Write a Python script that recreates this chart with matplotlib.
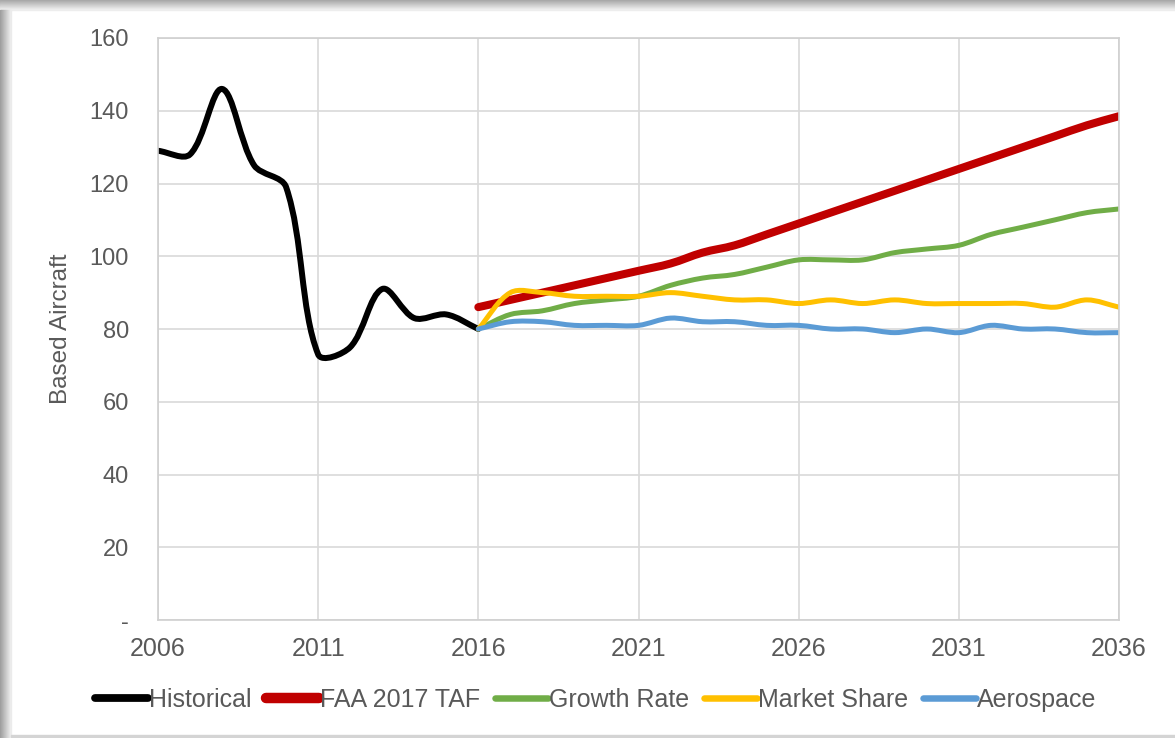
import matplotlib.pyplot as plt
import numpy as np
from matplotlib.path import Path
from matplotlib.patches import PathPatch, Rectangle
from matplotlib.lines import Line2D
from matplotlib.ticker import FuncFormatter

plt.rcParams['font.family'] = ['Liberation Sans', 'DejaVu Sans']

hist_years = list(range(2006, 2017))
historical = [129, 128, 146, 125, 119, 73, 75, 91, 83, 84, 80]

fc_years = list(range(2016, 2037))
faa_taf = [86, 88, 90, 92, 94, 96, 98, 101, 103, 106, 109,
           112, 115, 118, 121, 124, 127, 130, 133, 136, 138.5]
growth_rate = [80, 84, 85, 87, 88, 89, 92, 94, 95, 97, 99,
               99, 99, 101, 102, 103, 106, 108, 110, 112, 113]
market_share = [80, 90, 90, 89, 89, 89, 90, 89, 88, 88, 87,
                88, 87, 88, 87, 87, 87, 87, 86, 88, 86]
aerospace = [80, 82, 82, 81, 81, 81, 83, 82, 82, 81, 81,
             80, 80, 79, 80, 79, 81, 80, 80, 79, 79]

series = [
    ("Historical", hist_years, historical, "#000000", 4.3),
    ("FAA 2017 TAF", fc_years, faa_taf, "#c00000", 5.8),
    ("Growth Rate", fc_years, growth_rate, "#70ad47", 3.6),
    ("Market Share", fc_years, market_share, "#ffc000", 3.6),
    ("Aerospace", fc_years, aerospace, "#5b9bd5", 3.6),
]


def smooth_path(ax, xs, ys):
    # bezier segments through every point, handles weighted by chord length
    # measured on screen (like a spreadsheet "smoothed line")
    to_px = ax.transData
    p = to_px.transform(np.column_stack([xs, ys]).astype(float))
    ext = np.vstack([p[0], p, p[-1]])
    verts = [p[0]]
    codes = [Path.MOVETO]
    for i in range(len(p) - 1):
        p0, p1, p2, p3 = ext[i], ext[i + 1], ext[i + 2], ext[i + 3]
        d01 = np.hypot(*(p1 - p0))
        d12 = np.hypot(*(p2 - p1))
        d23 = np.hypot(*(p3 - p2))
        c1 = p1 + (p2 - p0) * d12 / (d01 + d12) / 3.0
        c2 = p2 - (p3 - p1) * d12 / (d12 + d23) / 3.0
        verts += [c1, c2, p2]
        codes += [Path.CURVE4] * 3
    verts = to_px.inverted().transform(np.array(verts))
    return Path(verts, codes)


fig = plt.figure(figsize=(11.75, 7.38), dpi=100)
fig.patch.set_facecolor('white')

# shadowed frame around the chart
W, H = 1175, 738
for k in range(10):
    g = 0.66 + 0.03 * k
    fig.patches.append(Rectangle((0, 1 - (k + 1) / H), 1, 1 / H,
                                 transform=fig.transFigure, color=str(min(g, 0.97)), zorder=0))
for k in range(11):
    g = 0.62 + 0.03 * k
    fig.patches.append(Rectangle((k / W, 0), 1 / W, 1 - 10 / H,
                                 transform=fig.transFigure, color=str(min(g, 0.97)), zorder=0))
fig.patches.append(Rectangle((11 / W, 1 / H), 1 - 11 / W, 2 / H,
                             transform=fig.transFigure, color='#d4d4d4', zorder=0))

ax = fig.add_axes([158 / W, 1 - 620 / H, (1119 - 158) / W, (620 - 38) / H])
ax.set_xlim(2006, 2036)
ax.set_ylim(0, 160)

for name, xs, ys, color, lw in series:
    ax.add_patch(PathPatch(smooth_path(ax, xs, ys), fill=False, edgecolor=color,
                           linewidth=lw, capstyle='round', joinstyle='round'))

ax.set_xticks(range(2006, 2037, 5))
ax.set_yticks(range(0, 161, 20))
ax.yaxis.set_major_formatter(FuncFormatter(lambda v, p: '-' if v == 0 else f'{int(v)}'))
ax.grid(True, color='#d9d9d9', linewidth=1.2)
ax.set_axisbelow(True)
for s in ax.spines.values():
    s.set_color('#d0d0d0')
    s.set_linewidth(1.2)
ax.tick_params(length=0, labelcolor='#595959')
ax.tick_params(axis='y', pad=21, labelsize=17)
ax.tick_params(axis='x', pad=12, labelsize=18)
ax.set_ylabel('Based Aircraft', fontsize=17.5, color='#595959')
ax.yaxis.set_label_coords(-0.09, 0.5)

handles = [Line2D([], [], color=c, linewidth=lw * 1.3, solid_capstyle='round')
           for _, _, _, c, lw in series]
fig.legend(handles, [s[0] for s in series], loc='center', bbox_to_anchor=(0.507, 0.0515),
           ncol=5, frameon=False, fontsize=18, labelcolor='#595959',
           handlelength=2.1, handletextpad=0.05, columnspacing=0.6)

fig.savefig('out.png', dpi=100, facecolor=fig.get_facecolor())
